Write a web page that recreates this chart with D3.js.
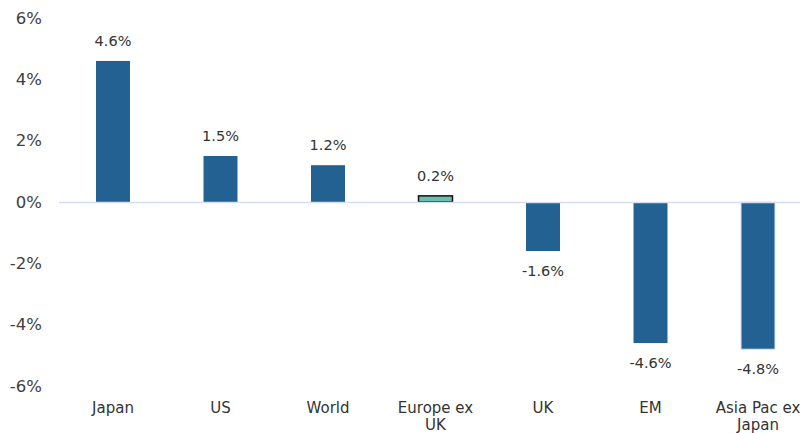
<!DOCTYPE html>
<html><head><meta charset="utf-8">
<script src="https://cdn.jsdelivr.net/npm/d3@7"></script>
<style>body{margin:0;background:#fff;overflow:hidden}svg{display:block}</style>
</head><body>
<script>
const categories = ["Japan","US","World","Europe ex UK","UK","EM","Asia Pac ex Japan"];
const values = [4.6,1.5,1.2,0.2,-1.6,-4.6,-4.8];
const labels = ["4.6%","1.5%","1.2%","0.2%","-1.6%","-4.6%","-4.8%"];
const yTicks = [-6,-4,-2,0,2,4,6];
const catLines = [["Japan"],["US"],["World"],["Europe ex","UK"],["UK"],["EM"],["Asia Pac ex","Japan"]];

const W=800,H=433;
const svg=d3.select("body").append("svg").attr("width",W).attr("height",H);
const font="'DejaVu Sans', sans-serif";
const x=d3.scaleBand().domain(categories).range([59.25,811.75]).paddingInner(0.684).paddingOuter(0.342);
const y=d3.scaleLinear().domain([-6,6]).range([386,18]);

// y axis labels
const yAxis=d3.axisLeft(y).tickValues(yTicks).tickFormat(d=>d+"%").tickSize(0).tickPadding(0);
const ga=svg.append("g").attr("transform","translate(42,0)").call(yAxis);
ga.select(".domain").remove();
ga.selectAll("text").attr("font-family",font).attr("font-size",16.5).attr("fill","#404040");

// bars
svg.selectAll("rect.bar").data(values).join("rect").attr("class","bar")
 .attr("x",(d,i)=>x(categories[i]))
 .attr("width",x.bandwidth())
 .attr("y",d=>y(Math.max(0,d)))
 .attr("height",d=>Math.abs(y(d)-y(0)))
 .attr("fill",(d,i)=>i===3?"#6dbdad":"#236192")
 .attr("stroke",(d,i)=>i===3?"#111":(i===6?"#d6e2f0":"none"))
 .attr("stroke-width",(d,i)=>i===3?1.5:1);

// zero line
svg.append("line").attr("x1",59).attr("x2",W).attr("y1",y(0)+0.5).attr("y2",y(0)+0.5)
 .attr("stroke","#d4ddf2").attr("stroke-width",1.5);

// data labels
svg.selectAll("text.lbl").data(values).join("text").attr("class","lbl")
 .attr("x",(d,i)=>x(categories[i])+x.bandwidth()/2)
 .attr("y",d=>d>=0?y(d)-15:y(d)+25)
 .attr("text-anchor","middle").attr("font-family",font).attr("font-size",14.5).attr("fill","#333")
 .text((d,i)=>labels[i]);

// category labels
const cg=svg.selectAll("text.cat").data(categories).join("text").attr("class","cat")
 .attr("x",d=>x(d)+x.bandwidth()/2).attr("y",413)
 .attr("text-anchor","middle").attr("font-family",font).attr("font-size",15).attr("fill","#333");
cg.each(function(d,i){
  const t=d3.select(this);
  catLines[i].forEach((ln,j)=>t.append("tspan").attr("x",x(d)+x.bandwidth()/2).attr("dy",j?17:0).text(ln));
});
</script>
</body></html>
